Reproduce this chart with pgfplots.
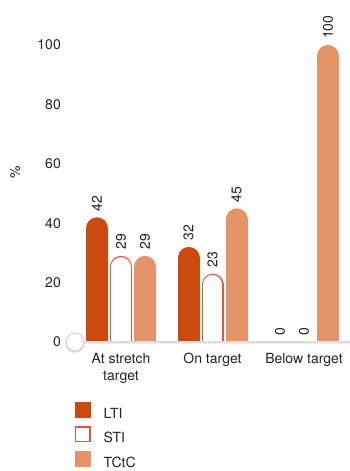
\documentclass[border=0pt]{standalone}
\usepackage{fontspec}
\setmainfont{TeX Gyre Heros}
\usepackage{pgfplots}
\usepackage{pgfplotstable}
\pgfplotsset{compat=1.18}
\definecolor{cLTI}{HTML}{CC4A0E}
\definecolor{cSTI}{HTML}{DA5C30}
\definecolor{cTC}{HTML}{E59467}
\definecolor{cAxis}{HTML}{DDDDDD}
\definecolor{cText}{HTML}{222222}
\newcommand\fs{\fontsize{14bp}{17bp}\selectfont}

\pgfplotstableread{
x y
0 42
1 32
2 0
}\lti
\pgfplotstableread{
x y
0 29
1 23
2 0
}\sti
\pgfplotstableread{
x y
0 29
1 45
2 100
}\tctc

\begin{document}
\begin{tikzpicture}
\useasboundingbox (-73bp,-129bp) rectangle (277bp,342bp);
\begin{axis}[
  name=ax,
  at={(0,0)}, anchor=south west,
  scale only axis, width=277bp, height=297bp,
  xmin=-0.525, xmax=2.503, ymin=0, ymax=100,
  clip mode=individual,
  axis line style={draw=none},
  major tick length=0pt,
  xtick={0,1,2},
  xticklabels={At stretch\\target, On target, Below target},
  ytick={0,20,40,60,80,100},
  /pgf/number format/assume math mode=true,
  tick label style={font=\fs, text=cText},
  xticklabel style={align=center, anchor=north, inner sep=0pt, yshift=-11bp},
  yticklabel style={anchor=east, inner sep=0pt, xshift=-12bp},
  ylabel={\%},
  every axis y label/.style={at={(rel axis cs:0,0.572)}, xshift=-58bp, rotate=90, anchor=center, font=\fs, text=cText},
  legend style={at={(rel axis cs:0,0)}, anchor=north west, xshift=2bp, yshift=-60bp,
    draw=none, fill=none, inner sep=0pt, outer sep=0pt, font=\fs, text=cText,
    row sep=6.6bp, column sep=13bp, nodes={inner sep=0pt}},
  legend cell align=left,
]
\addplot[ycomb, draw=cLTI, line width=22bp, line cap=round, restrict y to domain=-1:200,
  legend image code/.code={\path[fill=cLTI, draw=none, line width=0pt] (0bp,-3.8bp) rectangle (15.7bp,11.9bp);}]
  table[x expr=\thisrow{x}-0.2624, y expr=\thisrow{y}-3.70] {\lti};
\addlegendentry{LTI}
\addplot[ycomb, draw=cSTI, line width=22bp, line cap=round, restrict y to domain=-1:200,
  legend image code/.code={\path[draw=cSTI, line width=1.3bp, fill=white] (0.65bp,-3.15bp) rectangle (15.05bp,11.25bp);}]
  table[x expr=\thisrow{x}, y expr=\thisrow{y}-3.70] {\sti};
\addlegendentry{STI}
\addplot[ycomb, draw=white, line width=19.4bp, line cap=round, restrict y to domain=-1:200, forget plot]
  table[x expr=\thisrow{x}, y expr=\thisrow{y}-3.70] {\sti};
\addplot[ycomb, draw=cTC, line width=22bp, line cap=round, restrict y to domain=-1:200,
  legend image code/.code={\path[fill=cTC, draw=none, line width=0pt] (0bp,-3.8bp) rectangle (15.7bp,11.9bp);}]
  table[x expr=\thisrow{x}+0.2624, y expr=\thisrow{y}-3.70] {\tctc};
\addlegendentry{TCtC}
% value labels
\addplot[draw=none, forget plot, nodes near coords, point meta=explicit,
  nodes near coords style={font=\fs, text=cText, yshift=6bp, rotate=90, anchor=west, inner sep=0pt}]
  table[x expr=\thisrow{x}-0.2624, y=y, meta=y] {\lti};
\addplot[draw=none, forget plot, nodes near coords, point meta=explicit,
  nodes near coords style={font=\fs, text=cText, yshift=6bp, rotate=90, anchor=west, inner sep=0pt}]
  table[x expr=\thisrow{x}, y=y, meta=y] {\sti};
\addplot[draw=none, forget plot, nodes near coords, point meta=explicit,
  nodes near coords style={font=\fs, text=cText, yshift=6bp, rotate=90, anchor=west, inner sep=0pt}]
  table[x expr=\thisrow{x}+0.2624, y=y, meta=y] {\tctc};
\end{axis}
\draw[black!7, line width=1.2bp] ([yshift=-1.8bp]ax.south west) -- ([yshift=-1.8bp]ax.south east);
\draw[cAxis, line width=2bp] (ax.south west) -- (ax.south east);
\node[circle, fill=black!12, minimum size=19.5bp, inner sep=0pt] at ([xshift=2bp, yshift=-1.2bp]ax.south west) {};
\node[circle, draw=black!20, fill=white, minimum size=18bp, inner sep=0pt, line width=0.8bp] at ([xshift=2bp]ax.south west) {};
\end{tikzpicture}
\end{document}
